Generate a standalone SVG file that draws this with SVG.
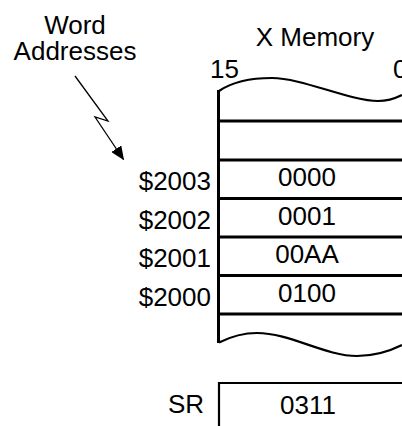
<svg xmlns="http://www.w3.org/2000/svg" width="402" height="426" viewBox="0 0 402 426">
<defs>
<style>
text{font-family:"Liberation Sans",Arial,sans-serif;font-size:26px;fill:#000}
.lbl{text-anchor:end}
.val{text-anchor:middle}
.thick{stroke:#000;stroke-width:3;fill:none}
.wave{stroke:#000;stroke-width:2.2;fill:none}
.thin{stroke:#000;stroke-width:1.3;fill:none}
</style>
<marker id="ah" markerWidth="14" markerHeight="12" refX="13" refY="6" orient="auto" markerUnits="userSpaceOnUse">
<path d="M0,0 L14,6 L0,12 Z" fill="#000"/>
</marker>
</defs>
<g id="title">
<text x="75" y="34" class="val">Word</text>
<text x="75" y="60" class="val">Addresses</text>
<text x="315" y="46" class="val">X Memory</text>
<text x="210" y="78">15</text>
<text x="393" y="78">0</text>
</g>
<g id="memory">
<path class="wave" d="M219,91 C232,82 252,78 272,78 C302,78 350,101 378,101 C388,101 396,98 402,95"/>
<path class="thick" d="M218.5,90 V343"/>
<path class="thick" d="M217,121 H402 M217,160 H402 M217,198.5 H402 M217,237 H402 M217,275.5 H402 M217,314 H402"/>
<path class="wave" d="M219,342.5 C232,336 244,333 257,333 C290,333 325,356 357,356 C375,356 392,350 402,345"/>
</g>
<g id="row2003"><text x="211" y="190" class="lbl">$2003</text><text x="307" y="186" class="val">0000</text></g>
<g id="row2002"><text x="211" y="228.5" class="lbl">$2002</text><text x="307" y="224.5" class="val">0001</text></g>
<g id="row2001"><text x="211" y="267" class="lbl">$2001</text><text x="307" y="263" class="val">00AA</text></g>
<g id="row2000"><text x="211" y="305.5" class="lbl">$2000</text><text x="307" y="301.5" class="val">0100</text></g>
<g id="sr">
<path class="wave" d="M219,426 V383 H402"/>
<text x="204" y="413" class="lbl">SR</text>
<text x="308" y="414" class="val">0311</text>
</g>
<g id="connectors">
<path class="thin" d="M75,76 L108,121 L95,117 L123.5,159.5" marker-end="url(#ah)"/>
</g>
</svg>
